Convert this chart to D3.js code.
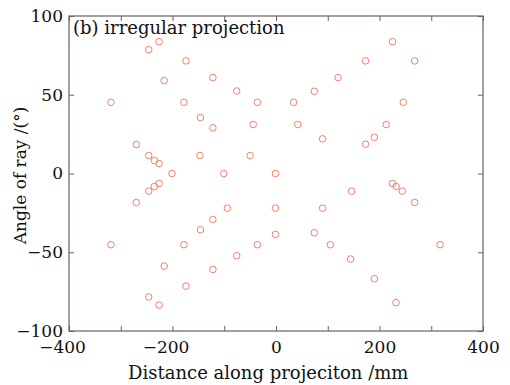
<!DOCTYPE html>
<html>
<head>
<meta charset="utf-8">
<script src="https://cdn.jsdelivr.net/npm/d3@7"></script>
<style>
  body { margin: 0; background: #fff; }
  text { font-family: "DejaVu Serif", serif; fill: #111; }
</style>
</head>
<body>
<svg id="chart"></svg>
<script>
// distance along projection (mm) and ray angle (deg)
const dist = [
  -319, -246, -226, -174, -216, -122, -76, -36, -178, -146, -122, -44,
  -270, -246, -235, -226, -147, -50, -201, -101, -1,
  -226, -235, -246, -270, -94, -122, -146, -319, -178, -36, -76, -216,
  -122, -174, -246, -226, -1, -1,
  34, 74, 120, 173, 225, 268, 246, 42, 213, 190, 173, 90,
  225, 232, 244, 146, 268, 90, 74, 105, 317, 144, 190, 232
]
const angle = [
  45.2, 78.6, 83.7, 71.5, 59.0, 60.9, 52.4, 45.2, 45.2, 35.5, 29.0, 31.1,
  18.4, 11.4, 8.2, 6.3, 11.4, 11.4, 0, 0, 0,
  -6.3, -8.2, -11.2, -18.4, -22.0, -29.2, -35.7, -45.2, -45.2, -45.2, -52.2, -58.8,
  -60.9, -71.5, -78.4, -83.5, -22.0, -38.7,
  45.2, 52.2, 60.9, 71.5, 83.7, 71.5, 45.2, 31.1, 31.1, 23.0, 18.6, 22.0,
  -6.3, -8.2, -11.2, -11.2, -18.4, -22.0, -37.6, -45.2, -45.2, -54.3, -66.8, -82.0
]
const xTicks = [-400, -300, -200, -100, 0, 100, 200, 300, 400]
const xLabels = [-400, -200, 0, 200, 400]
const yTicks = [-100, -50, 0, 50, 100]

const w = 510, h = 385
const m = { left: 69, right: 27, top: 16, bottom: 54 }

let svg = d3.select("#chart").attr("width", w).attr("height", h)

let x = d3.scaleLinear().domain([-400, 400]).range([m.left, w - m.right])
let y = d3.scaleLinear().domain([-100, 100]).range([h - m.bottom, m.top])

const fmt = d => d < 0 ? "\u2212" + Math.abs(d) : "" + d

// inward ticks on all four sides
let axBottom = svg.append("g")
    .attr("transform", `translate(0,${h - m.bottom})`)
    .call(d3.axisBottom(x).tickValues(xTicks).tickSize(-5)
        .tickFormat(d => xLabels.includes(d) ? fmt(d) : ""))
let axTop = svg.append("g")
    .attr("transform", `translate(0,${m.top})`)
    .call(d3.axisTop(x).tickValues(xTicks).tickSize(-5).tickFormat(""))
let axLeft = svg.append("g")
    .attr("transform", `translate(${m.left},0)`)
    .call(d3.axisLeft(y).tickValues(yTicks).tickSize(-5).tickFormat(fmt))
let axRight = svg.append("g")
    .attr("transform", `translate(${w - m.right},0)`)
    .call(d3.axisRight(y).tickValues(yTicks).tickSize(-5).tickFormat(""))

for (const g of [axBottom, axTop, axLeft, axRight]) {
    g.select(".domain").remove()
    g.selectAll("line").attr("stroke", "#6a625e")
    g.selectAll("text").style("font-size", "17px").attr("fill", "#111")
}
// digits centred on the tick, minus sign hangs to the left
axBottom.selectAll("text")
    .attr("y", 6).attr("dy", "0.95em")
    .attr("dx", d => d < 0 ? -7 : 0)
axLeft.selectAll("text").attr("x", -6)

svg.append("rect")
    .attr("x", m.left).attr("y", m.top)
    .attr("width", w - m.left - m.right)
    .attr("height", h - m.top - m.bottom)
    .attr("fill", "none")
    .attr("stroke", "#6a625e")
    .attr("stroke-width", 1.2)

svg.append("g")
    .selectAll("circle")
    .data(dist.map((d, i) => [d, angle[i]]))
    .join("circle")
    .attr("cx", d => x(d[0]))
    .attr("cy", d => y(d[1]))
    .attr("r", 3.3)
    .attr("fill", "none")
    .attr("stroke", "#f0826a")
    .attr("stroke-width", 1)

svg.append("text")
    .attr("x", m.left + 4).attr("y", m.top + 18)
    .style("font-size", "18px")
    .text("(b) irregular projection")

svg.append("text")
    .attr("x", x(-15)).attr("y", h - 6)
    .attr("text-anchor", "middle")
    .style("font-size", "18px")
    .text("Distance along projeciton /mm")

svg.append("text")
    .attr("transform", `translate(26,${y(0) + 2}) rotate(-90)`)
    .attr("text-anchor", "middle")
    .style("font-size", "17px")
    .text("Angle of ray /(°)")
</script>
</body>
</html>
